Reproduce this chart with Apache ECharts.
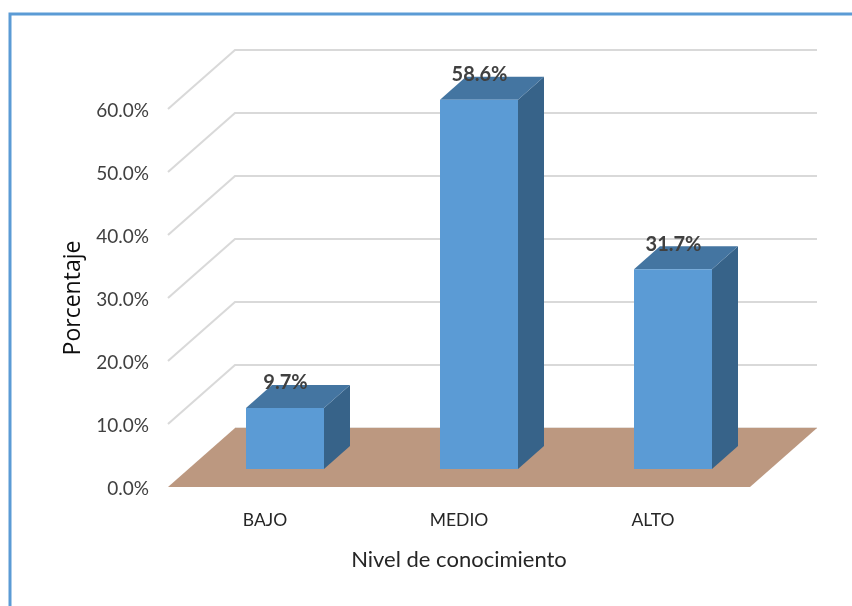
<!DOCTYPE html>
<html><head><meta charset="utf-8">
<style>html,body{margin:0;padding:0;background:#fff}#c{width:852px;height:606px}</style>
<script src="https://cdn.jsdelivr.net/npm/echarts@6/dist/echarts.min.js"></script>
</head><body><div id="c"></div>
<script>
const categories = ['BAJO', 'MEDIO', 'ALTO'];
const percentages = [9.7, 58.6, 31.7];
const axisTicks = [0, 10, 20, 30, 40, 50, 60];
const yAxisTitle = 'Porcentaje';
const xAxisTitle = 'Nivel de conocimiento';

const WALL_DX = 67, WALL_DY = -59;
const BAR_SHIFT_X = 20, BAR_SHIFT_Y = -18, BAR_W = 78, BAR_DX = 26, BAR_DY = -23;

const chart = echarts.init(document.getElementById('c'), null, {renderer: 'canvas'});
chart.setOption({
  backgroundColor: '#fff',
  animation: false,
  grid: {left: 168, right: 102, top: 109, bottom: 119, containLabel: false},
  xAxis: {
    type: 'category', data: categories,
    name: xAxisTitle, nameLocation: 'middle', nameGap: 62,
    nameTextStyle: {fontFamily: 'Lato', fontSize: 22, color: '#262626'},
    axisLine: {show: false}, axisTick: {show: false}, splitLine: {show: false},
    axisLabel: {margin: 24, fontFamily: 'Lato', fontSize: 17.5, color: '#262626'}
  },
  yAxis: {
    type: 'value', min: 0, max: 60, interval: 10,
    name: yAxisTitle, nameLocation: 'middle', nameGap: 79, nameRotate: 90,
    nameTextStyle: {fontFamily: 'Open Sans', fontSize: 23, color: '#0d0d0d'},
    axisLine: {show: false}, axisTick: {show: false}, splitLine: {show: false},
    axisLabel: {margin: 19,
      rich: {t: {fontFamily: 'Lato', fontSize: 19, color: '#404040', padding: [4, 0, 0, 0]}},
      formatter: v => '{t|' + v.toFixed(1) + '%}'}
  },
  graphic: [
    {type: 'polyline', z: 100, shape: {points: [[10, 606], [10, 14], [852, 14]]},
     style: {stroke: '#5B9BD5', lineWidth: 3, fill: null}}
  ],
  series: [
    {
      type: 'custom', z: 1, silent: true,
      data: axisTicks.map(t => [0, t]),
      encode: {x: 0, y: 1},
      renderItem(params, api) {
        const t = api.value(1);
        const y = api.coord([0, t])[1];
        const cs = params.coordSys;
        const l = cs.x, r = cs.x + cs.width;
        const line = {stroke: '#D9D9D9', lineWidth: 2, fill: null};
        if (t === 0) {
          return {type: 'group', children: [
            {type: 'polyline', shape: {points: [[l + WALL_DX, y + WALL_DY], [r + WALL_DX, y + WALL_DY]]},
             style: {stroke: '#E6E0DC', lineWidth: 2, fill: null}},
            {type: 'polygon', shape: {points: [[l, y], [r, y], [r + WALL_DX, y + WALL_DY], [l + WALL_DX, y + WALL_DY]]},
             style: {fill: '#BC9880'}}
          ]};
        }
        return {type: 'polyline', shape: {points: [[l, y], [l + WALL_DX, y + WALL_DY], [r + WALL_DX, y + WALL_DY]]}, style: line};
      }
    },
    {
      type: 'custom', z: 5, silent: true,
      data: percentages.map((v, i) => [i, v]),
      encode: {x: 0, y: 1},
      renderItem(params, api) {
        const i = api.value(0), v = api.value(1);
        const top = api.coord([i, v]);
        const base = api.coord([i, 0]);
        const x0 = top[0] + BAR_SHIFT_X - BAR_W / 2, x1 = x0 + BAR_W;
        const yt = top[1] + BAR_SHIFT_Y, yb = base[1] + BAR_SHIFT_Y;
        return {type: 'group', children: [
          {type: 'polygon', shape: {points: [[x1, yt], [x1 + BAR_DX, yt + BAR_DY], [x1 + BAR_DX, yb + BAR_DY], [x1, yb]]},
           style: {fill: '#376389'}},
          {type: 'polygon', shape: {points: [[x0, yt], [x1, yt], [x1 + BAR_DX, yt + BAR_DY], [x0 + BAR_DX, yt + BAR_DY]]},
           style: {fill: '#4475A1'}},
          {type: 'rect', shape: {x: x0, y: yt, width: BAR_W, height: yb - yt},
           style: {fill: '#5B9BD5'}},
          {type: 'text', style: {text: v.toFixed(1) + '%', x: (x0 + x1) / 2 + 0.5, y: yt - 25,
            align: 'center', verticalAlign: 'middle', fill: '#404040',
            font: 'bold 20px Lato'}}
        ]};
      }
    }
  ]
});
</script></body></html>
